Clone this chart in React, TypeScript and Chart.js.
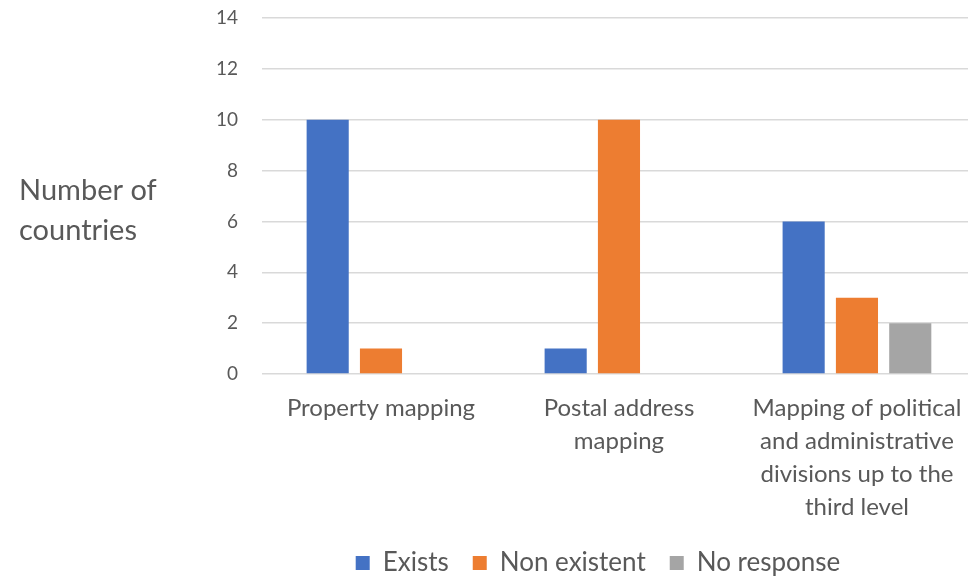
import React, { useEffect, useRef } from "react";
import { Chart, registerables } from "chart.js";

Chart.register(...registerables);

const categories: string[][] = [
  ["Property mapping"],
  ["Postal address", "mapping"],
  ["Mapping of political", "and administrative", "divisions up to the", "third level"],
];
const existsValues = [10, 1, 6];
const nonExistentValues = [1, 10, 3];
const noResponseValues = [0, 0, 2];
const seriesNames = ["Exists", "Non existent", "No response"];
const yTicks = { min: 0, max: 14, step: 2 };
const yTitleLines = ["Number of", "countries"];

const FONT = "Lato, 'Open Sans', sans-serif";
const TEXT = "#595959";
const GRID = "#d9d9d9";

const CANVAS_W = 980;
const CANVAS_H = 577;
const LEGEND_CENTER_X = 598;
// y of the centre of the legend row
const LEGEND_ROW_Y = 563;

// Draws the horizontal y-axis title to the left of the tick labels.
const yTitlePlugin = {
  id: "yTitleLeft",
  afterDraw(chart: Chart) {
    const { ctx } = chart;
    ctx.save();
    ctx.fillStyle = TEXT;
    ctx.font = `29px ${FONT}`;
    ctx.textAlign = "left";
    ctx.textBaseline = "middle";
    yTitleLines.forEach((line, i) => ctx.fillText(line, 19, 191 + i * 40));
    ctx.restore();
  },
};

// Places the legend row at a fixed horizontal centre and vertical position.
const legendPlacePlugin = {
  id: "legendPlace",
  afterLayout(chart: Chart) {
    const lg: any = (chart as any).legend;
    if (!lg) return;
    const w = lg.width;
    lg.left = LEGEND_CENTER_X - w / 2;
    lg.right = LEGEND_CENTER_X + w / 2;
    const h = lg.height;
    const labels = lg.options.labels;
    const itemH = Math.max(labels.font.size, labels.boxHeight);
    lg.top = LEGEND_ROW_Y - itemH / 2 - labels.padding;
    lg.bottom = lg.top + h;
  },
};

export default function App() {
  const ref = useRef<HTMLCanvasElement | null>(null);

  useEffect(() => {
    if (!ref.current) return;
    const chart = new Chart(ref.current, {
      type: "bar",
      data: {
        labels: categories,
        datasets: [
          { label: seriesNames[0], data: existsValues, backgroundColor: "#4472c4" },
          { label: seriesNames[1], data: nonExistentValues, backgroundColor: "#ed7d31" },
          { label: seriesNames[2], data: noResponseValues, backgroundColor: "#a5a5a5" },
        ],
      },
      plugins: [yTitlePlugin, legendPlacePlugin],
      options: {
        responsive: false,
        animation: false,
        datasets: {
          bar: { categoryPercentage: 0.672, barPercentage: 0.79 },
        },
        layout: { padding: { top: 18, right: 4, bottom: -7, left: 0 } },
        plugins: {
          tooltip: { enabled: false },
          legend: {
            position: "bottom",
            labels: {
              boxWidth: 14,
              boxHeight: 14,
              padding: 24,
              color: TEXT,
              font: { family: FONT, size: 26 },
            },
          },
        },
        scales: {
          x: {
            grid: { display: false, drawTicks: false },
            border: { display: false },
            ticks: {
              color: TEXT,
              font: { family: FONT, size: 24, lineHeight: 1.375 },
              maxRotation: 0,
              autoSkip: false,
              padding: 18,
            },
            afterFit(scale: any) {
              scale.height = 150;
            },
          },
          y: {
            min: yTicks.min,
            max: yTicks.max,
            ticks: {
              stepSize: yTicks.step,
              color: TEXT,
              font: { family: FONT, size: 19 },
              padding: 24,
            },
            grid: { color: GRID, lineWidth: 1.5, drawTicks: false },
            border: { display: false },
            afterFit(scale: any) {
              scale.width = 262;
              scale.paddingTop = 0;
              scale.paddingBottom = 0;
            },
          },
        },
      },
    });
    return () => chart.destroy();
  }, []);

  return (
    <div
      style={{
        position: "absolute",
        left: 0,
        top: 0,
        width: 968,
        height: CANVAS_H,
        overflow: "hidden",
        background: "#fff",
      }}
    >
      <canvas ref={ref} width={CANVAS_W} height={CANVAS_H} style={{ display: "block" }} />
    </div>
  );
}
